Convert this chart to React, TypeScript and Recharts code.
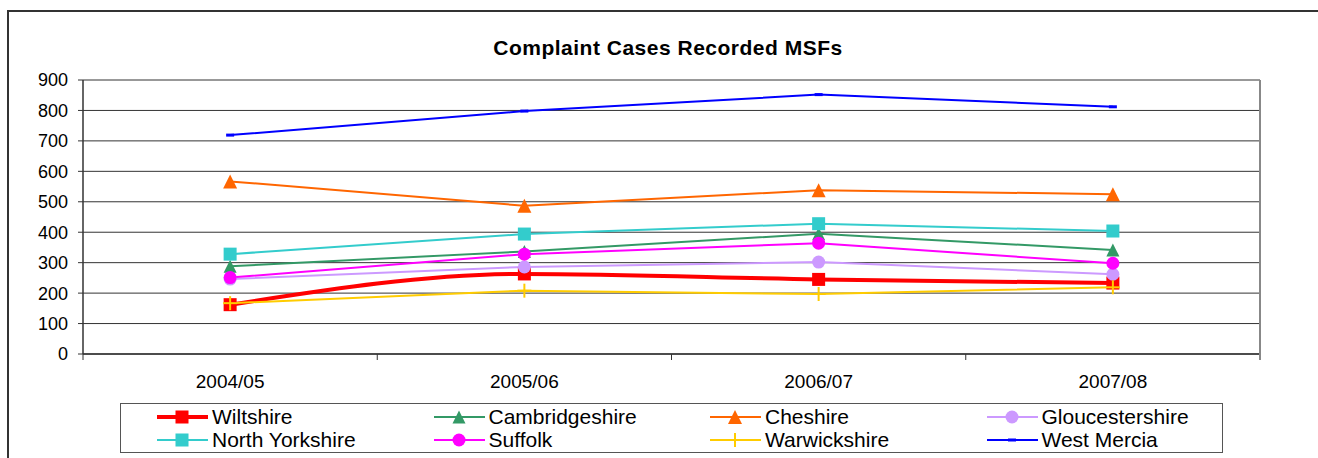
import React from 'react';
import { LineChart, Line, XAxis, YAxis, CartesianGrid, Legend } from 'recharts';

// values
const years = ['2004/05', '2005/06', '2006/07', '2007/08'];
const wiltshire = [162, 263, 245, 233];
const cambridgeshire = [288, 337, 395, 342];
const cheshire = [567, 487, 538, 525];
const gloucestershire = [246, 286, 302, 262];
const northYorkshire = [328, 394, 428, 404];
const suffolk = [251, 328, 364, 298];
const warwickshire = [167, 208, 197, 219];
const westMercia = [719, 798, 852, 812];
const yTicks = [0, 100, 200, 300, 400, 500, 600, 700, 800, 900];

type Shape = 'square' | 'triangle' | 'circle' | 'plus' | 'dash';

interface Series {
  key: string;
  name: string;
  values: number[];
  color: string;
  width: number;
  shape: Shape;
  size: number;
  smooth?: boolean;
}

const series: Series[] = [
  { key: 'wiltshire', name: 'Wiltshire', values: wiltshire, color: '#FF0000', width: 4, shape: 'square', size: 13, smooth: true },
  { key: 'cambridgeshire', name: 'Cambridgeshire', values: cambridgeshire, color: '#339966', width: 2, shape: 'triangle', size: 13 },
  { key: 'cheshire', name: 'Cheshire', values: cheshire, color: '#FF6600', width: 2, shape: 'triangle', size: 14 },
  { key: 'gloucestershire', name: 'Gloucestershire', values: gloucestershire, color: '#CC99FF', width: 2, shape: 'circle', size: 13 },
  { key: 'northYorkshire', name: 'North Yorkshire', values: northYorkshire, color: '#33CCCC', width: 2, shape: 'square', size: 13 },
  { key: 'suffolk', name: 'Suffolk', values: suffolk, color: '#FF00FF', width: 2, shape: 'circle', size: 13 },
  { key: 'warwickshire', name: 'Warwickshire', values: warwickshire, color: '#FFCC00', width: 2, shape: 'plus', size: 14 },
  { key: 'westMercia', name: 'West Mercia', values: westMercia, color: '#0000FF', width: 2, shape: 'dash', size: 8 },
];

const data = years.map((year, i) => {
  const row: Record<string, any> = { year };
  series.forEach((s) => {
    row[s.key] = s.values[i];
  });
  return row;
});

const W = 1318;
const H = 458;
const FONT = '"Liberation Sans", Arial, sans-serif';
const margin = { top: 80, right: 57, bottom: 74, left: 0 };
const Y_W = 83;
const PLOT_W = W - margin.left - margin.right - Y_W - 1;
const HALF_BAND = PLOT_W / years.length / 2;

const Marker = ({ shape, cx, cy, color, size }: { shape: Shape; cx: number; cy: number; color: string; size: number }) => {
  const h = size / 2;
  switch (shape) {
    case 'square':
      return <rect x={cx - h} y={cy - h} width={size} height={size} fill={color} />;
    case 'triangle':
      return <polygon points={`${cx},${cy - h} ${cx + h},${cy + h} ${cx - h},${cy + h}`} fill={color} />;
    case 'circle':
      return <circle cx={cx} cy={cy} r={h} fill={color} />;
    case 'plus':
      return (
        <g stroke={color} strokeWidth={2}>
          <line x1={cx - h} x2={cx + h} y1={cy} y2={cy} />
          <line x1={cx} x2={cx} y1={cy - h} y2={cy + h} />
        </g>
      );
    default:
      return <rect x={cx - 4} y={cy - 1.5} width={8} height={3} fill={color} />;
  }
};

const XTick = (props: any) => {
  const { x, y, payload, index } = props;
  return (
    <g>
      <line x1={x - HALF_BAND} x2={x - HALF_BAND} y1={y} y2={y + 6} stroke="#333" />
      {index === years.length - 1 && (
        <line x1={x + HALF_BAND} x2={x + HALF_BAND} y1={y} y2={y + 6} stroke="#888" strokeWidth={2} />
      )}
      <text x={x} y={y + 34} textAnchor="middle" fontSize={19} fontFamily={FONT} fill="#000">
        {payload.value}
      </text>
    </g>
  );
};

const LegendBox = () => (
  <div
    style={{
      width: 1103,
      height: 50,
      boxSizing: 'border-box',
      border: '1.5px solid #555',
      background: '#fff',
      display: 'grid',
      gridTemplateColumns: 'repeat(4, 276.5px)',
      gridAutoRows: '23px',
      paddingLeft: 35,
      paddingTop: 1,
      fontFamily: FONT,
      fontSize: 21,
      lineHeight: '23px',
      color: '#000',
    }}
  >
    {series.map((s) => (
      <div key={s.key} style={{ display: 'flex', alignItems: 'center', whiteSpace: 'nowrap' }}>
        <svg width={54} height={20} style={{ flex: 'none' }}>
          <line x1={1} x2={52} y1={10} y2={10} stroke={s.color} strokeWidth={s.width} />
          <Marker shape={s.shape} cx={26} cy={10} color={s.color} size={s.size} />
        </svg>
        <span style={{ marginLeft: 2 }}>{s.name}</span>
      </div>
    ))}
  </div>
);

export default function App() {
  return (
    <div style={{ position: 'absolute', left: 0, top: 0, width: W, height: H, overflow: 'hidden', background: '#fff' }}>
      <div
        style={{
          position: 'absolute',
          left: 7,
          top: 10,
          width: W + 50,
          height: H + 50,
          border: '2px solid #333',
        }}
      />
      <div
        style={{
          position: 'absolute',
          left: 9,
          top: 37,
          width: W,
          textAlign: 'center',
          fontFamily: FONT,
          fontWeight: 'bold',
          fontSize: 21,
          lineHeight: '21px',
          letterSpacing: 0.5,
        }}
      >
        Complaint Cases Recorded MSFs
      </div>
      <div style={{ position: 'absolute', left: 0, top: 0 }}>
        <LineChart width={W} height={H} data={data} margin={margin}>
          <CartesianGrid vertical={false} stroke="#333" />
          <XAxis
            dataKey="year"
            scale="band"
            height={30}
            tickSize={0}
            tickMargin={0}
            tickLine={false}
            axisLine={{ stroke: '#333', strokeWidth: 1.5 }}
            tick={<XTick />}
            interval={0}
          />
          <YAxis
            width={Y_W}
            domain={[0, 900]}
            ticks={yTicks}
            interval={0}
            tickSize={5}
            tickMargin={10}
            tick={{ fontSize: 18, fontFamily: FONT, fill: '#000' }}
            tickLine={{ stroke: '#333' }}
            axisLine={{ stroke: '#333', strokeWidth: 1.5 }}
          />
          <YAxis
            yAxisId="r"
            orientation="right"
            width={1}
            domain={[0, 900]}
            tick={false}
            tickLine={false}
            axisLine={{ stroke: '#888', strokeWidth: 2 }}
          />
          <Legend
            layout="vertical"
            align="center"
            verticalAlign="middle"
            content={<LegendBox />}
            wrapperStyle={{ left: 120, top: 403, width: 1103, height: 50 }}
          />
          {series.map((s) => (
            <Line
              key={s.key}
              dataKey={s.key}
              name={s.name}
              type={s.smooth ? 'monotone' : 'linear'}
              stroke={s.color}
              strokeWidth={s.width}
              isAnimationActive={false}
              dot={(p: any) => (
                <Marker key={`${s.key}-${p.index}`} shape={s.shape} cx={p.cx} cy={p.cy} color={s.color} size={s.size} />
              )}
              activeDot={false}
            />
          ))}
        </LineChart>
      </div>
    </div>
  );
}
